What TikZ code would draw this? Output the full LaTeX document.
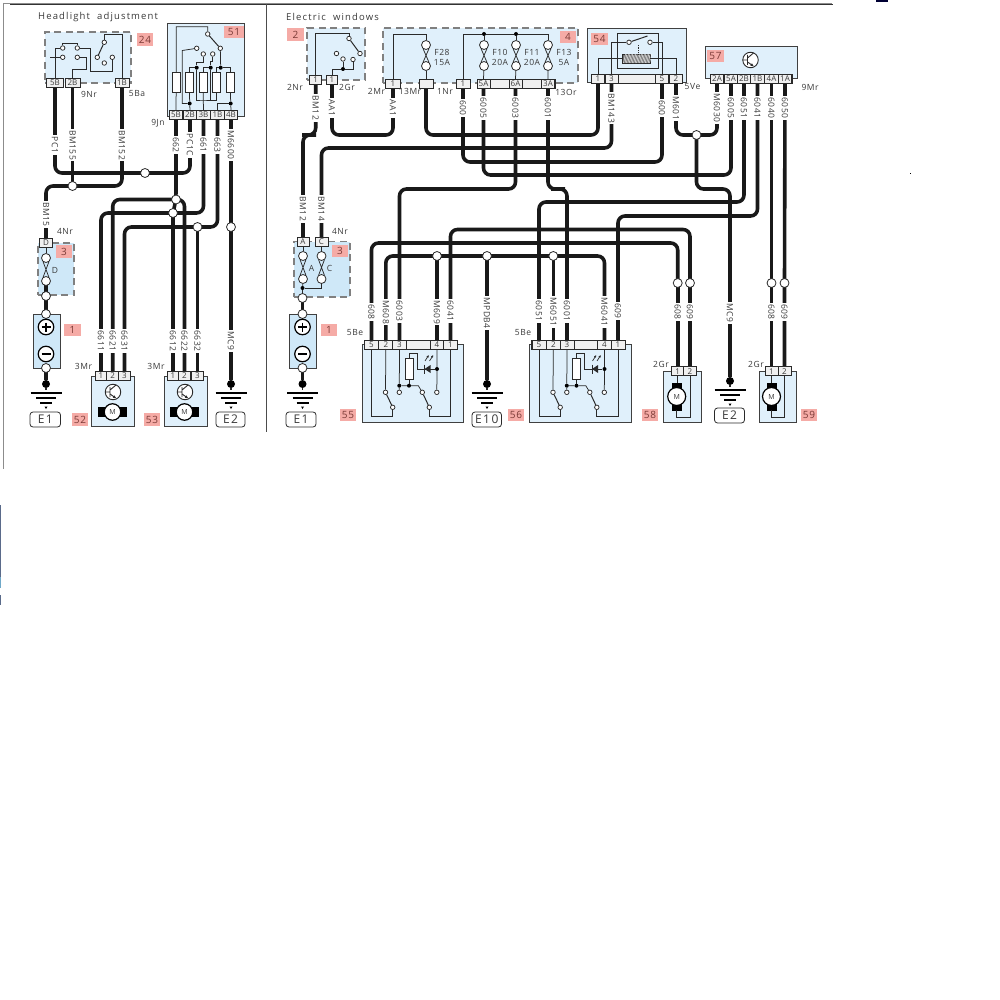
\documentclass[tikz,border=0pt]{standalone}
\usepackage{fontspec}
\setmainfont{Open Sans}
\newfontfamily\spaced[LetterSpace=6]{Open Sans}
\newfontfamily\wide[LetterSpace=12]{Open Sans}
\usetikzlibrary{arrows.meta}
\pgfdeclarelayer{back}\pgfdeclarelayer{wires}
\pgfsetlayers{back,wires,main}
\definecolor{ink}{HTML}{2A2A2A}
\definecolor{txt}{HTML}{3A3A3A}
\definecolor{pale}{HTML}{E0F0FB}
\definecolor{paler}{HTML}{CFE8F8}
\definecolor{tagc}{HTML}{F5ABA6}
\definecolor{tagt}{HTML}{7A3A36}
\definecolor{edge}{HTML}{5A6A8A}
\definecolor{edgeb}{HTML}{6FA8C8}
\tikzset{
 wire/.style={line width=3.6pt,draw=black!90,rounded corners=7pt},
 thin wire/.style={line width=.75pt,draw=ink},
 module/.style={rectangle,fill=pale,draw=black!75,line width=.95pt,inner sep=0,outer sep=0},
 dashmod/.style={rectangle,fill=pale,draw=black!50,line width=1.1pt,dash pattern=on 7pt off 4.5pt,inner sep=0,outer sep=0},
 pinbox/.style={rectangle,fill=white!94!black,draw=ink,line width=.7pt,inner sep=0,outer sep=0,minimum height=9pt,font=\fontsize{8}{8}\selectfont,text=txt},
 jn/.style={circle,fill=white,draw=ink,line width=.8pt,minimum size=9pt,inner sep=0},
 blackdot/.style={circle,fill=black,inner sep=0,minimum size=8pt},
 smalldot/.style={circle,fill=black,inner sep=0,minimum size=4pt},
 contact/.style={circle,fill=white,draw=ink,line width=.75pt,minimum size=4.5pt,inner sep=0},
 tagbox/.style={rectangle,fill=tagc,text=tagt,inner sep=0,font=\fontsize{10}{10}\selectfont\spaced},
 wlabel/.style={rotate=-90,fill=white,inner xsep=1.5pt,inner ysep=.6pt,text=txt,font=\fontsize{8.5}{8.5}\selectfont\spaced},
 plain/.style={inner sep=0,text=txt,font=\fontsize{8.5}{8.5}\selectfont\spaced},
 earth/.style={rectangle,rounded corners=3pt,draw=ink,line width=.8pt,fill=white,inner sep=0,text=txt,font=\fontsize{12}{12}\selectfont\wide},
 resistor/.style={rectangle,fill=white,draw=ink,line width=.75pt,inner sep=0,minimum width=7.5pt,minimum height=20.5pt},
 gline/.style={line width=1.5pt,draw=black}
}
\newcounter{auto}
\newcommand\bx[7]{\node[#1,minimum width={((#5)-(#3))*1pt},minimum height={((#6)-(#4))*1pt}] (#2) at ({((#3)+(#5))/2},{((#4)+(#6))/2}) {#7};}
\newcommand\pn[5]{\node[pinbox,minimum width=#3pt] (#1) at (#2,#4) {#5};}
\newcommand\wl[3]{\stepcounter{auto}\node[wlabel] (wl\arabic{auto}) at (#1,#2) {#3};}
\newcommand\tx[3]{\stepcounter{auto}\node[plain] (tx\arabic{auto}) at (#1,#2) {#3};}
\newcommand\ct[3]{\node[contact] (#1) at (#2,#3) {};}
% ground symbol with dot at (x,y): name x y boxx1 boxx2 boxbottomoffset text
\newcommand\gnd[7]{%
 \node[blackdot] (#1) at (#2,#3) {};
 \draw[thin wire,line width=1.7pt] (#1) -- ++(0,6);
 \draw[gline] (#2-15.5,#3+9) -- (#2+15.5,#3+9);
 \draw[gline] (#2-10,#3+14) -- (#2+10,#3+14);
 \draw[gline] (#2-6,#3+19) -- (#2+6,#3+19);
 \fill (#2-1.5,#3+22.5) -- (#2+1.5,#3+22.5) -- (#2,#3+25) -- cycle;
 \bx{earth}{#1box}{#4}{#3+#6-15}{#5}{#3+#6}{#7}
}
\newcommand\fuse[4]{% name x y1 y2
 \node[jn] (#1a) at (#2,#3) {};
 \node[jn] (#1b) at (#2,#4) {};
 \draw[thin wire] (#1a.235) -- (#1b.55) (#1a.305) -- (#1b.125);
}
\newcommand\transist[3]{%
 \node[circle,draw=ink,fill=white,line width=.9pt,minimum size=15.5pt,inner sep=0] (#1) at (#2,#3) {};
 \draw[ink,line width=.9pt] (#2-3,#3-5) -- (#2-3,#3+5) (#2-8,#3) -- (#2-3,#3) (#2-3,#3-2) -- (#2+3,#3-7);
 \draw[ink,line width=.9pt,-{Latex[length=3.5pt,width=3pt]}] (#2-3,#3+2) -- (#2+3.5,#3+6.5);
}
\newcommand\motorh[3]{%
 \fill[black] (#2-14.5,#3-5) rectangle (#2+14.5,#3+5);
 \node[circle,draw=black,fill=white,line width=1.2pt,minimum size=16.5pt,inner sep=0,text=txt,font=\fontsize{7}{7}\selectfont] (#1) at (#2,#3) {M};
}
\newcommand\motorv[3]{%
 \fill[black] (#2-5,#3-14) rectangle (#2+5,#3+14);
 \node[circle,draw=black,fill=white,line width=1.2pt,minimum size=18pt,inner sep=0,text=txt,font=\fontsize{7}{7}\selectfont] (#1) at (#2,#3) {M};
}
\newcommand\winsw[2]{%
 \begin{scope}[shift={(#2,0)}]
 \ct{#1c2}{385.5}{392.3}\ct{#1c2b}{392.7}{407.3}
 \ct{#1c3}{399.3}{392.3}\ct{#1c4}{422.3}{392.3}
 \ct{#1c4b}{429.3}{407.3}\ct{#1c5}{436.8}{392.3}
 \node[smalldot] (#1d1) at (399.3,385.7) {};
 \node[smalldot] (#1d2) at (409,385.7) {};
 \node[smalldot] (#1d3) at (437,369) {};
 \bx{resistor}{#1r}{405}{358.3}{413}{379.3}{}
 \draw[thin wire] (#1a.south) |- (392.7,416) -- (#1c2b);
 \draw[thin wire] (#1b.south) -- (#1c2);
 \draw[thin wire,line width=1pt] (#1c2) -- (#1c2b);
 \draw[thin wire] (#1c.south) -- (#1d1) -- (#1c3);
 \draw[thin wire] (#1d1) -- (#1d2) -- (418.3,385.7) -- (#1c4);
 \draw[thin wire,line width=1pt] (#1c4) -- (#1c4b);
 \draw[thin wire] (#1c4b) -- (429.3,416) -| (#1e.south);
 \draw[thin wire] (#1d.south) -- (#1d3) -- (#1c5);
 \draw[thin wire] (#1r) -- (#1d2);
 \draw[thin wire] (#1r.north) -- (409,353.3) -- (417.3,353.3) -- (417.3,369) -- (#1d3);
 \fill[ink] (424.5,369) -- (430.5,365) -- (430.5,373) -- cycle;
 \draw[ink,line width=1pt] (424.5,364.5) -- (424.5,373.5);
 \draw[ink,line width=.7pt,-{Latex[length=2.5pt,width=2.5pt]}] (425,361) -- (428.8,355);
 \draw[ink,line width=.7pt,-{Latex[length=2.5pt,width=2.5pt]}] (429.5,361) -- (433.3,355);
 \end{scope}
}
\begin{document}
\begin{tikzpicture}[x=1pt,y=-1pt]
\useasboundingbox (0,0) rectangle (1000,1000);
%%% sheet lines and specks
\draw[line width=.8pt,black!45] (3.5,3) -- (832,3);
\draw[line width=.9pt,black!80] (10,4.5) -- (833,4.5);
\draw[line width=.8pt,black!45] (3.5,3) -- (3.5,469);
\draw[line width=.8pt,black!70] (266,4) -- (266,432);
\fill[black!80!blue] (876,0) rectangle (888,2);
\fill[black] (910,173) rectangle (911,174);
\fill[edge] (0,505) rectangle (1.2,577);
\fill[edgeb] (0,577) rectangle (1.2,588);
\fill[edge] (0,595) rectangle (1.2,605);
%%% titles
\node[inner sep=0,anchor=west,text=txt,font=\fontsize{9.5}{10}\selectfont\wide] (t1) at (38,17) {Headlight\ \ adjustment};
\node[inner sep=0,anchor=west,text=txt,font=\fontsize{9.5}{10}\selectfont\wide] (t2) at (286,17) {Electric\ \ windows};
%%% module bodies
\begin{pgfonlayer}{back}
\bx{dashmod}{m24}{45}{32}{131}{83}{}
\bx{module}{m51}{167}{23}{244}{116}{}
\bx{module}{m52}{91.5}{376}{134}{426.5}{}
\bx{module}{m53}{164}{376}{207}{426.5}{}
\bx{dashmod,fill=paler}{m3l}{38}{243}{74}{295}{}
\bx{module,fill=paler}{m1l}{33}{314}{60}{368}{}
\bx{dashmod}{m2}{307}{28}{365}{80}{}
\bx{dashmod}{m4}{383}{28}{578}{83}{}
\bx{module}{m54}{587}{28}{686.5}{82}{}
\bx{module}{m57}{705}{46.5}{797}{78}{}
\bx{dashmod,fill=paler}{m3r}{294}{241.5}{350}{297}{}
\bx{module,fill=paler}{m1r}{289}{314}{316}{368}{}
\bx{module}{m55}{362}{344}{463.5}{422}{}
\bx{module}{m56}{529}{344}{631}{422}{}
\bx{module}{m58}{663}{371}{701}{422}{}
\bx{module}{m59}{759}{371}{796}{422}{}
\end{pgfonlayer}
%%% pin strips
\bx{pinbox}{s4}{477}{79}{555}{88}{}
\bx{pinbox}{s54}{591.5}{74}{682.5}{83}{}
\bx{pinbox}{s57}{710}{74}{792}{83}{}
\bx{pinbox}{s55}{364}{340}{457}{349}{}
\bx{pinbox}{s56}{531.5}{340}{624.5}{349}{}
%%% pins
\pn{a1}{55}{17}{83}{5B}\pn{a2}{72.5}{15}{83}{2B}\pn{a3}{122}{14}{83}{1B}
\pn{b1}{176}{13.5}{115}{5B}\pn{b2}{190}{13.5}{115}{2B}\pn{b3}{203.5}{13.5}{115}{3B}\pn{b4}{217.5}{13.5}{115}{1B}\pn{b5}{231}{13.5}{115}{4B}
\pn{c1}{101}{12}{375.5}{1}\pn{c2}{112.7}{12}{375.5}{2}\pn{c3}{124.5}{12}{375.5}{3}
\pn{e1}{173}{12}{375.5}{1}\pn{e2}{184.5}{12}{375.5}{2}\pn{e3}{197.5}{12}{375.5}{3}
\pn{pD}{46}{13}{242.5}{D}
\pn{pA}{303}{12}{242}{A}\pn{pC}{321.5}{13}{242}{C}
\pn{f1}{315.7}{12}{79.5}{1}\pn{f2}{332}{11}{79.5}{1}
\pn{g1}{393}{15}{83.5}{1}\pn{g2}{426}{14}{83.5}{}\pn{g3}{463}{14}{83.5}{1}
\pn{g4}{483.5}{13}{83.5}{5A}\pn{g5}{515.5}{13}{83.5}{6A}\pn{g6}{548}{13}{83.5}{3A}
\pn{h1}{598}{13}{78.5}{1}\pn{h2}{611.5}{13}{78.5}{3}\pn{h3}{662}{13}{78.5}{5}\pn{h4}{676}{13}{78.5}{2}
\pn{i1}{717}{13.5}{78.5}{2A}\pn{i2}{731}{13.5}{78.5}{5A}\pn{i3}{744}{13.5}{78.5}{2B}\pn{i4}{757.5}{13.5}{78.5}{1B}\pn{i5}{771.5}{13.5}{78.5}{4A}\pn{i6}{785}{13.5}{78.5}{1A}
\pn{ka}{371.5}{14}{344.5}{5}\pn{kb}{385.8}{14}{344.5}{2}\pn{kc}{399.5}{14}{344.5}{3}\pn{kd}{437}{14}{344.5}{4}\pn{ke}{450.5}{14}{344.5}{1}
\pn{la}{539}{14}{344.5}{5}\pn{lb}{553.3}{14}{344.5}{2}\pn{lc}{567}{14}{344.5}{3}\pn{ld}{604.5}{14}{344.5}{4}\pn{le}{618}{14}{344.5}{1}
\pn{n1}{677.7}{12.5}{371.3}{1}\pn{n2}{690}{12.5}{371.3}{2}
\pn{q1}{771.5}{13}{371.3}{1}\pn{q2}{784.5}{13}{371.3}{2}
%%% junctions
\node[jn] (j1) at (145,173) {};
\node[jn] (j2) at (72.5,186) {};
\node[jn] (j3) at (176,199.5) {};
\node[jn] (j4) at (173,213) {};
\node[jn] (j5) at (197.5,227) {};
\node[jn] (j6) at (231,227) {};
\node[jn] (j7) at (696.5,135) {};
\node[jn] (j8) at (677.7,283) {};
\node[jn] (j9) at (690,283) {};
\node[jn] (j10) at (437,256) {};
\node[jn] (j11) at (487,256) {};
\node[jn] (j12) at (553.3,256) {};
\node[jn] (j13) at (771.5,283) {};
\node[jn] (j14) at (784.5,283) {};
%%% grounds
\gnd{g0}{46}{384}{30}{60.5}{43}{E1}
\gnd{g00}{231}{384}{216}{245}{43}{E2}
\gnd{g01}{302.5}{384}{286}{316}{43}{E1}
\gnd{g02}{487}{384}{472}{501.5}{43}{E10}
\gnd{g03}{730}{381}{714.5}{744.5}{42}{E2}
%%% fuses, batteries
\fuse{fd}{46}{258}{281}
\fuse{fa}{303}{256}{279}
\fuse{fc}{321.5}{256}{279}
\fuse{f28}{426}{45}{66}
\fuse{f10}{484}{45}{66}
\fuse{f11}{516}{45}{66}
\fuse{f13}{548}{45}{66}
\node[jn] (o1) at (46,296) {};
\node[jn] (o2) at (46,314) {};
\node[jn] (o3) at (46,368) {};
\node[jn] (o4) at (302.5,298) {};
\node[jn] (o5) at (302.5,314) {};
\node[jn] (o6) at (302.5,368) {};
\foreach \n/\x in {pl/46,pr/302.5}{
 \node[circle,draw=black,fill=white,line width=1.2pt,minimum size=15.5pt,inner sep=0] (\n p) at (\x,327) {};
 \node[circle,draw=black,fill=white,line width=1.2pt,minimum size=15.5pt,inner sep=0] (\n m) at (\x,354) {};
 \draw[black,line width=1.3pt] (\x-4.5,327) -- (\x+4.5,327) (\x,322.5) -- (\x,331.5) (\x-4.5,354) -- (\x+4.5,354);
}
%%% wires
\begin{pgfonlayer}{wires}
\draw[wire] (a1.south) |- (j1.center) -| (b2.south);
\draw[wire] (a2.south) -- (j2.center);
\draw[wire] (a3.south) |- (j2.center);
\draw[wire] (j2.center) -| (pD.north);
\draw[wire] (b1.south) -- (j3.center) -- (j4.center);
\draw[wire] (c2.north) |- (j3.center);
\draw[wire] (j3.center) -| (e2.north);
\draw[wire] (b3.south) |- (j4.center);
\draw[wire] (j4.center) -| (c1.north);
\draw[wire] (j4.center) -- (e1.north);
\draw[wire] (b4.south) |- (j5.center);
\draw[wire] (j5.center) -| (c3.north);
\draw[wire] (j5.center) -- (e3.north);
\draw[wire] (b5.south) -- (j6.center) -- (g00);
\draw[wire] (o1.center) -- (o2.center);
\draw[wire] (fdb.center) -- (o1.center);
\draw[wire] (o3.center) -- (g0);
\draw[wire] (o4.center) -- (o5.center);
\draw[wire] (o6.center) -- (g01);
\draw[wire] (f1.south) |- (309,135) -| (pA.north);
\draw[wire] (f2.south) |- (360,135) -| (g1.south);
\draw[wire] (pC.north) |- (450,148) -| (h2.south);
\draw[wire] (g2.south) |- (510,135) -| (h1.south);
\draw[wire] (g3.south) |- (560,162) -| (h3.south);
\draw[wire] (g4.south) |- (600,175) -| (i2.south);
\draw[wire] (g5.south) |- (450,189) -| (kc.north);
\draw[wire] (g6.south) |- (558,189) -| (lc.north);
\draw[wire] (h4.south) |- (j7.center) -| (i1.south);
\draw[wire] (j7.center) |- (710,189) -| (g03);
\draw[wire] (i3.south) |- (640,202) -| (la.north);
\draw[wire] (i4.south) |- (680,216) -| (le.north);
\draw[wire] (ke.north) |- (570,229.5) -| (j9.center);
\draw[wire] (j9.center) -- (n2.north);
\draw[wire] (ka.north) |- (520,243) -| (j8.center);
\draw[wire] (j8.center) -- (n1.north);
\draw[wire] (kb.north) |- (j10.center);
\draw[wire] (j10.center) -- (j11.center) -- (j12.center) -| (ld.north);
\draw[wire] (j10.center) -- (kd.north);
\draw[wire] (j11.center) -- (g02);
\draw[wire] (j12.center) -- (lb.north);
\draw[wire] (i5.south) -- (j13.center) -- (q1.north);
\draw[wire] (i6.south) -- (j14.center) -- (q2.north);
\end{pgfonlayer}
%%% wire labels, left
\wl{55}{145}{PC1}\wl{72.5}{145}{BM155}\wl{122}{145}{BM152}
\wl{176}{145}{662}\wl{190}{145}{PC1C}\wl{203.5}{145}{661}\wl{217.5}{145}{663}\wl{231}{145}{M6600}
\wl{46}{214.5}{BM15}
\wl{101}{341}{6611}\wl{112.7}{341}{6621}\wl{124.5}{341}{6631}
\wl{173}{341}{6612}\wl{184.5}{341}{6622}\wl{197.5}{341}{6632}\wl{231}{341}{MC9}
%%% wire labels, right
\wl{315.7}{108}{BM12}\wl{332}{108}{AA1}\wl{393}{108}{AA1}
\wl{463}{108}{600}\wl{483.5}{108}{6005}\wl{515.5}{108}{6003}\wl{548}{108}{6001}
\wl{611.5}{108}{BM143}\wl{662}{108}{600}\wl{676}{108}{M601}
\wl{717}{108}{M6030}\wl{731}{108}{6005}\wl{744}{108}{6051}\wl{757.5}{108}{6041}\wl{771.5}{108}{6040}\wl{785}{108}{6050}
\wl{303}{209}{BM12}\wl{321.5}{209}{BM14}
\wl{371.5}{312}{608}\wl{385.8}{312}{M608}\wl{399.5}{311}{6003}\wl{437}{312}{M609}\wl{450.5}{311}{6041}
\wl{487}{313}{MPDB4}
\wl{539}{311}{6051}\wl{553.3}{312}{M6051}\wl{567}{311}{6001}\wl{604.5}{312}{M6041}\wl{618}{311}{609}
\wl{677.7}{312}{608}\wl{690}{312}{609}\wl{730}{313}{MC9}\wl{771.5}{312}{608}\wl{784.5}{312}{609}
%%% connector position texts
\tx{89}{94}{9Nr}\tx{137}{94}{5Ba}\tx{158}{123}{9Jn}\tx{65}{231}{4Nr}
\tx{83.5}{366}{3Mr}\tx{156}{366}{3Mr}
\tx{295}{87}{2Nr}\tx{347}{87}{2Gr}\tx{376.5}{91.5}{2Mr}\tx{410}{91.5}{13Mr}\tx{445}{91.5}{1Nr}\tx{566}{92}{13Or}
\tx{692.5}{87}{5Ve}\tx{810}{87}{9Mr}\tx{340}{231}{4Nr}\tx{355}{333}{5Be}\tx{523}{333}{5Be}
\tx{661}{364}{2Gr}\tx{756}{364}{2Gr}
\tx{55}{270}{D}\tx{311.5}{268}{A}\tx{329.5}{268}{C}
\tx{442}{52}{F28}\tx{442}{62}{15A}\tx{500}{52}{F10}\tx{500}{62}{20A}\tx{532}{52}{F11}\tx{532}{62}{20A}\tx{564}{52}{F13}\tx{564}{62}{5A}
%%% number tags
\bx{tagbox}{t24}{137}{33}{153}{46}{24}
\bx{tagbox}{t51}{224}{26}{244}{38}{51}
\bx{tagbox}{t3a}{56}{245}{72}{258}{3}
\bx{tagbox}{t1a}{64}{324}{81}{336}{1}
\bx{tagbox}{t52}{72}{413}{88}{426}{52}
\bx{tagbox}{t53}{144}{413}{160}{426}{53}
\bx{tagbox}{t2}{287}{28}{304}{41}{2}
\bx{tagbox}{t4}{560}{31}{576}{43}{4}
\bx{tagbox}{t54}{591}{33}{608}{45}{54}
\bx{tagbox}{t57}{707}{50}{724}{62}{57}
\bx{tagbox}{t3b}{332}{245}{348}{257}{3}
\bx{tagbox}{t1b}{321}{324}{337}{336}{1}
\bx{tagbox}{t55}{340}{409}{356}{421}{55}
\bx{tagbox}{t56}{508}{409}{524}{421}{56}
\bx{tagbox}{t58}{642}{409}{658}{421}{58}
\bx{tagbox}{t59}{801}{409}{817}{421}{59}
%%% transistors, motors
\transist{tr52}{113}{392}\transist{tr53}{185}{392}\transist{tr57}{750.5}{60}
\motorh{mo52}{112.5}{412}\motorh{mo53}{184.5}{412}
\motorv{mo58}{676.7}{396.5}\motorv{mo59}{771.5}{396.5}
\draw[thin wire] (n2.south) |- (676.7,417) -- (676.7,410);
\draw[thin wire] (q2.south) |- (771.5,417) -- (771.5,410);
\draw[thin wire] (n1.south) -- (677.7,383);
\draw[thin wire] (q1.south) -- (771.5,383);
%%% fuse hookups
\draw[thin wire] (pD.south) -- (fda);
\draw[thin wire] (pA.south) -- (faa);
\draw[thin wire] (pC.south) -- (fca);
\node[smalldot] (da) at (302.5,288) {};
\draw[thin wire] (fab) -- (da) -- (o4);
\draw[thin wire] (fcb) |- (da);
\draw[thin wire] (g1.north) |- (426,34) -- (f28a);
\draw[thin wire] (g2.north) -- (f28b);
\node[smalldot] (d10) at (484,34) {};
\node[smalldot] (d11) at (516,34) {};
\draw[thin wire] (g3.north) |- (d10) -- (d11) -- (548,34) -- (f13a);
\draw[thin wire] (d10) -- (f10a) (d11) -- (f11a);
\draw[thin wire] (f10b) -- (g4.north) (f11b) -- (g5.north) (f13b) -- (g6.north);
%%% relay 24
\ct{u1}{62.7}{48}\ct{u2}{77.3}{48}\ct{u3}{62.7}{57.3}\ct{u4}{77.3}{57.3}
\ct{u5}{104.3}{42.3}\ct{u6}{97.3}{57.3}\ct{u7}{104.3}{63}\ct{u8}{112.3}{57.3}
\draw[thin wire] (u1) |- (70,43.7) -| (u2);
\draw[thin wire] (a1.north) |- (u1);
\draw[thin wire] (50,57.3) -- (u3);
\draw[thin wire] (a2.north) |- (86.7,69.7) |- (u4);
\draw[thin wire] (u2) -| (90,71.3) -| (u8);
\draw[thin wire] (u5) |- (113,34.7) -| (a3.north);
\draw[thin wire,line width=1pt] (u5) -- (u6);
%%% relay 51
\ct{v0}{207.7}{34}\ct{v1}{196.7}{48.3}\ct{v2}{203.3}{54}\ct{v3}{212.7}{54}\ct{v4}{220.3}{48.3}
\bx{resistor}{r1}{172.3}{72.3}{180}{92.7}{}
\bx{resistor}{r2}{185.7}{72.3}{193.3}{92.7}{}
\bx{resistor}{r3}{199.3}{72.3}{207}{92.7}{}
\bx{resistor}{r4}{212.7}{72.3}{220.3}{92.7}{}
\bx{resistor}{r5}{226.7}{72.3}{234.3}{92.7}{}
\node[smalldot] (w1) at (196.7,67.7) {};
\node[smalldot] (w2) at (210.7,67.7) {};
\node[smalldot] (w3) at (220.7,67.7) {};
\node[smalldot] (w4) at (189.7,103.5) {};
\node[smalldot] (w5) at (230.7,103.5) {};
\draw[thin wire] (b1.north) -- (r1.south) (r1.north) |- (200,26.7) -| (v0);
\draw[thin wire,line width=1pt] (v0) -- (v4);
\draw[thin wire] (v1) -- (182.3,50.5) |- (w4);
\draw[thin wire] (r2.south) -- (w4) -- (b2.north);
\draw[thin wire] (r2.north) |- (w1);
\draw[thin wire] (v2) |- (196.7,62.7) -- (w1);
\draw[thin wire] (w1) |- (203,100) -| (w2);
\draw[thin wire] (r3.north) |- (w2);
\draw[thin wire] (r3.south) -- (b3.north);
\draw[thin wire] (v3) |- (210.7,61.7) -- (w2);
\draw[thin wire] (v4) -- (w3);
\draw[thin wire] (r4.north) |- (w3);
\draw[thin wire] (w3) -| (r5.north);
\draw[thin wire] (r4.south) |- (210.7,100);
\draw[thin wire] (r5.south) -- (w5) -- (b5.north);
\draw[thin wire] (w5) -| (b4.north);
%%% relay 2
\ct{x0}{349}{38.5}\ct{x1}{336.5}{53.5}\ct{x2}{343}{59}\ct{x3}{353}{59.5}\ct{x4}{360}{53.5}
\node[smalldot] (xd) at (343,69) {};
\draw[thin wire] (f1.north) |- (349,33) -- (x0);
\draw[thin wire,line width=1pt] (x0) -- (x4);
\draw[thin wire] (f2.north) |- (xd) -- (x2);
\draw[thin wire] (xd) -| (x3);
%%% relay 54
\bx{rectangle,draw=ink,line width=.9pt,inner sep=0,fill=pale}{in54}{617}{33}{658}{68}{}
\bx{rectangle,draw=ink,line width=.7pt,inner sep=0,fill=black!55}{coil}{622.5}{54}{650}{63}{}
\foreach \i in {0,...,18}{\draw[white,line width=.4pt] (623.5+\i*1.45,63) -- (625.5+\i*1.45,54);}
\ct{y1}{629}{42.3}\ct{y2}{650}{42.3}
\draw[thin wire,line width=1pt] (y1) -- (647.5,36);
\draw[thin wire,densely dotted] (638,45) -- (638,54);
\draw[thin wire] (h1.north) |- (coil.west) (coil.east) -| (h4.north);
\draw[thin wire] (h2.north) |- (y1);
\draw[thin wire] (h3.north) |- (y2);
%%% window switches
\winsw{k}{0}
\winsw{l}{167.5}
\end{tikzpicture}
\end{document}
